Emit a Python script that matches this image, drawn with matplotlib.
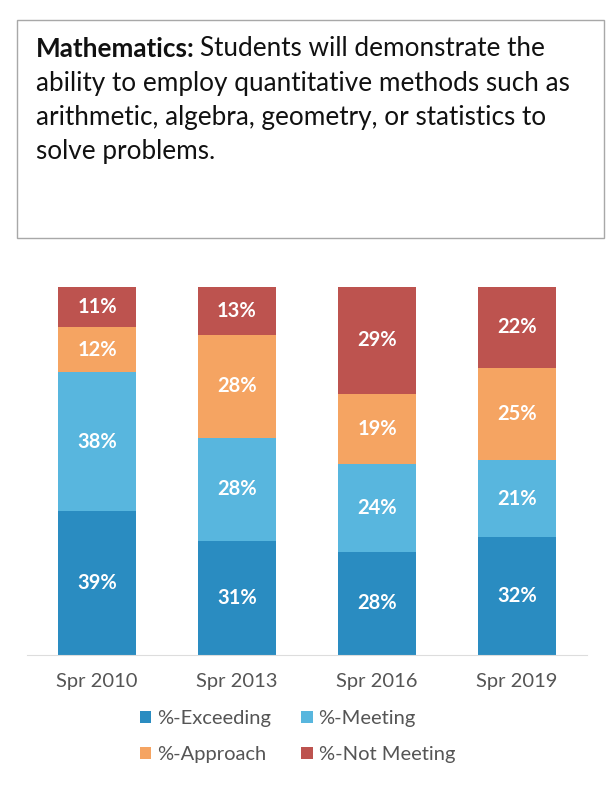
import matplotlib.pyplot as plt
from matplotlib.patches import Rectangle
import numpy as np

plt.rcParams["font.family"] = ["Lato", "DejaVu Sans"]

terms = ["Spr 2010", "Spr 2013", "Spr 2016", "Spr 2019"]
exceeding = [39, 31, 28, 32]
meeting = [38, 28, 24, 21]
approach = [12, 28, 19, 25]
not_meeting = [11, 13, 29, 22]

series = [
    ("%-Exceeding", exceeding, "#2a8cc1"),
    ("%-Meeting", meeting, "#58b6de"),
    ("%-Approach", approach, "#f5a462"),
    ("%-Not Meeting", not_meeting, "#bd534f"),
]

W, H = 611, 785
fig = plt.figure(figsize=(W / 100, H / 100), dpi=100)

# outcome statement box
fig.patches.append(Rectangle((17 / W, 1 - 238 / H), 587 / W, 218 / H,
                             transform=fig.transFigure, fill=False,
                             edgecolor="#a8a8a8", linewidth=1.0))

lines = [
    "ability to employ quantitative methods such as",
    "arithmetic, algebra, geometry, or statistics to",
    "solve problems.",
]
tsize = 18.8
x0 = 36 / W
head = fig.text(x0, 1 - 49 / H, "Mathematics:", fontsize=tsize, fontweight="bold",
                va="center", ha="left", color="#111111")
fig.canvas.draw()
bb = head.get_window_extent().transformed(fig.transFigure.inverted())
fig.text(bb.x1 + 5 / W, 1 - 49 / H, "Students will demonstrate the", fontsize=tsize,
         va="center", ha="left", color="#111111")
for i, line in enumerate(lines):
    fig.text(x0, 1 - (49 + 34 * (i + 1)) / H, line, fontsize=tsize,
             va="center", ha="left", color="#111111")

# stacked bars
ax = fig.add_axes([27 / W, 1 - 655 / H, 560 / W, 368 / H])
x = np.arange(len(terms))
bottom = np.zeros(len(terms))
handles = {}
for name, vals, color in series:
    vals = np.array(vals, dtype=float)
    handles[name] = ax.bar(x, vals, 0.56, bottom=bottom, color=color, label=name)
    for xi, b, v in zip(x, bottom, vals):
        ax.text(xi, b + v / 2, f"{int(v)}%", ha="center", va="center",
                color="white", fontsize=14.5, fontweight="bold")
    bottom += vals

ax.set_xlim(-0.5, 3.5)
ax.set_ylim(0, 100)
ax.set_yticks([])
ax.set_xticks(x)
ax.set_xticklabels(terms, fontsize=14.5, color="#555555")
ax.tick_params(axis="x", length=0, pad=13)
for s in ["top", "right", "left"]:
    ax.spines[s].set_visible(False)
ax.spines["bottom"].set_color("#dddddd")

# legend laid out row-wise: Exceeding, Meeting / Approach, Not Meeting
order = ["%-Exceeding", "%-Approach", "%-Meeting", "%-Not Meeting"]
fig.legend(handles=[handles[k] for k in order], loc="upper left",
           bbox_to_anchor=(126 / W, 1 - 696 / H),
           ncol=2, frameon=False, fontsize=14.5, labelcolor="#555555",
           handlelength=0.55, handleheight=0.55, handletextpad=0.3,
           columnspacing=1.5, labelspacing=0.95, borderpad=0.2)

fig.savefig("out.png", dpi=100, facecolor="white")
